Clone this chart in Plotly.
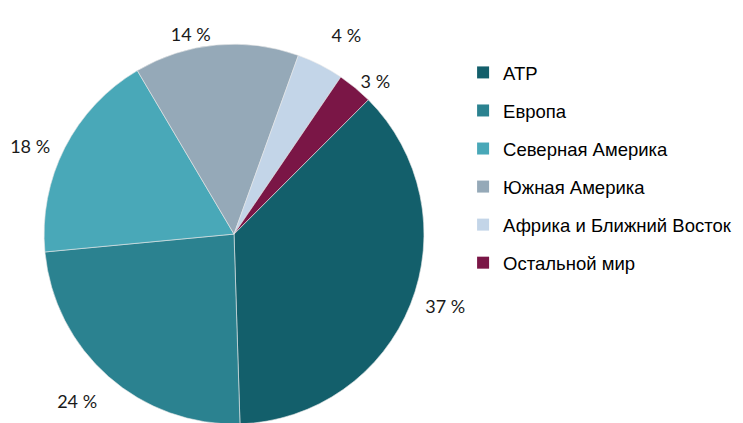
import plotly.graph_objects as go

labels = ["АТР", "Европа", "Северная Америка", "Южная Америка", "Африка и Ближний Восток", "Остальной мир"]
values = [37, 24, 18, 14, 4, 3]
colors = ["#135f6b", "#2b8290", "#49a8b8", "#95a9b8", "#c3d5e8", "#7a1646"]

# per-slice label templates (extra blank line / spaces push labels a bit further out)
NB = "\u00a0"
label_templates = [
    NB * 2 + "%{value} %",            # АТР (right side)
    NB + "<br>%{value} %",            # Европа (bottom)
    "%{value} %" + NB * 2,            # Северная Америка (left)
    "%{value} %",                     # Южная Америка (top)
    "%{value} %<br>" + NB,            # Африка (top)
    "%{value} %",                     # Остальной мир (top)
]

fig = go.Figure()
fig.add_trace(go.Pie(
    labels=labels,
    values=values,
    sort=False,
    direction="clockwise",
    rotation=45,
    showlegend=False,
    marker=dict(colors=colors, line=dict(color="#e8e8e8", width=0.6)),
    texttemplate=label_templates,
    textposition="outside",
    outsidetextfont=dict(family="Lato, Open Sans, sans-serif", size=18, color="#1a1a1a"),
    domain=dict(x=[0.0482, 0.5602], y=[0.0165, 0.9145]),
    hoverinfo="label+percent",
))

# legend entries (one per category, same colours as the slices)
for lab, col in zip(labels, colors):
    fig.add_trace(go.Scatter(
        x=[None], y=[None], mode="markers", name=lab, legendgroup=lab,
        marker=dict(symbol="square", size=12, color=col),
        showlegend=True, hoverinfo="skip",
    ))

fig.update_layout(
    width=743, height=423,
    margin=dict(l=0, r=0, t=0, b=0, autoexpand=False),
    paper_bgcolor="white",
    plot_bgcolor="white",
    xaxis=dict(visible=False),
    yaxis=dict(visible=False),
    showlegend=True,
    legend=dict(
        x=0.6125, y=0.622, xanchor="left", yanchor="middle",
        font=dict(family="Liberation Sans, Arial, sans-serif", size=18.5, color="#000000"),
        itemwidth=30,
        tracegroupgap=11,
        bgcolor="rgba(0,0,0,0)",
    ),
)

fig.write_html("out.html")
